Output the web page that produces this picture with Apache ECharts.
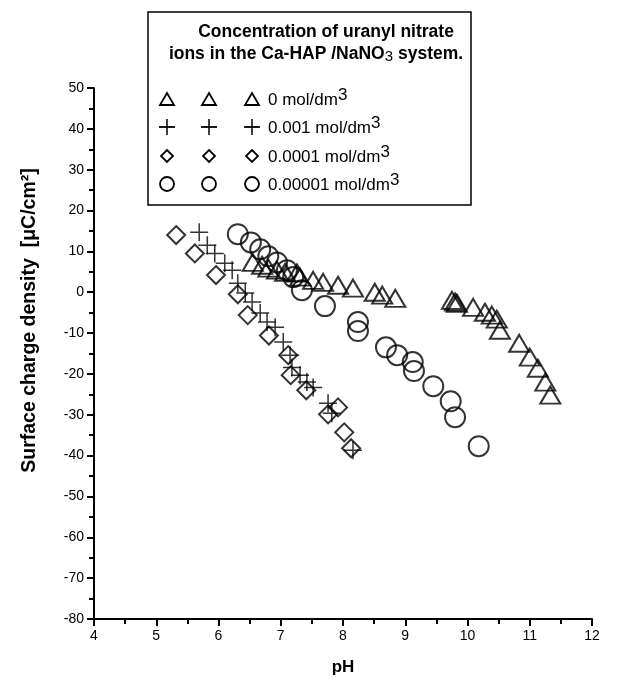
<!DOCTYPE html>
<html>
<head>
<meta charset="utf-8">
<script src="https://cdn.jsdelivr.net/npm/echarts@6/dist/echarts.min.js"></script>
<style>
  html, body { margin: 0; padding: 0; background: #fff; }
  #chart { width: 634px; height: 682px; }
</style>
</head>
<body>
<div id="chart"></div>
<script>
// pH / surface charge density pairs
var conc0 = [
  [6.55, 7.3], [6.70, 6.6], [6.80, 5.9], [6.94, 5.4], [7.07, 4.9], [7.26, 4.7], [7.31, 3.7],
  [7.52, 2.9], [7.68, 2.4], [7.92, 1.7], [8.16, 1.0], [8.51, 0.0], [8.63, -0.7], [8.84, -1.5],
  [9.75, -2.0], [9.80, -2.4], [9.83, -2.7], [10.09, -3.7], [10.28, -4.9], [10.39, -5.6],
  [10.47, -6.6], [10.52, -9.3], [10.83, -12.5], [11.00, -15.9], [11.13, -18.6], [11.25, -22.0], [11.33, -25.2]
];
var conc1e3 = [
  [5.69, 14.7], [5.82, 11.5], [5.94, 9.5], [6.10, 7.1], [6.22, 5.4], [6.31, 2.2], [6.43, -0.2],
  [6.54, -2.4], [6.67, -5.1], [6.78, -7.3], [6.91, -8.6], [7.04, -12.2], [7.15, -15.4], [7.18, -18.4],
  [7.31, -20.3], [7.42, -22.0], [7.52, -23.3], [7.76, -27.2], [7.82, -29.6], [8.16, -38.7]
];
var conc1e4 = [
  [5.32, 14.0], [5.62, 9.5], [5.96, 4.2], [6.31, -0.5], [6.47, -5.6], [6.81, -10.6], [7.12, -15.4],
  [7.16, -20.3], [7.41, -24.0], [7.76, -29.9], [7.92, -28.2], [8.02, -34.3], [8.13, -38.2]
];
var conc1e5 = [
  [6.31, 14.2], [6.52, 12.2], [6.67, 10.5], [6.80, 8.8], [6.94, 7.3], [7.10, 5.4], [7.20, 3.7],
  [7.34, 0.5], [7.71, -3.4], [8.24, -7.3], [8.24, -9.5], [8.69, -13.5], [8.87, -15.4], [9.12, -17.1],
  [9.14, -19.3], [9.45, -23.0], [9.73, -26.7], [9.80, -30.6], [10.18, -37.7]
];
var seriesNames = ['0 mol/dm3', '0.001 mol/dm3', '0.0001 mol/dm3', '0.00001 mol/dm3'];

var plusPath = 'path://M0,10L20,10M10,0L10,20';
var markStyle = { color: 'rgba(0,0,0,0)', borderColor: '#000', borderWidth: 2 };

var chartDom = document.getElementById('chart');
var myChart = echarts.init(chartDom);

// legend box drawn by hand (three symbol columns like the original)
var legendRows = [
  { y: 99, text: '0 mol/dm{s|3}' },
  { y: 127, text: '0.001 mol/dm{s|3}' },
  { y: 156, text: '0.0001 mol/dm{s|3}' },
  { y: 184, text: '0.00001 mol/dm{s|3}' }
];
var legendCols = [167, 209, 252];
var legendGraphics = [{
  type: 'rect',
  shape: { x: 148, y: 12, width: 323, height: 193 },
  style: { fill: '#fff', stroke: '#000', lineWidth: 1.5 }
}, {
  type: 'text',
  x: 326, y: 32,
  style: { text: 'Concentration of uranyl nitrate', fill: '#000', font: 'bold 17.5px "Liberation Sans", Arial', align: 'center', verticalAlign: 'middle' }
}, {
  type: 'text',
  x: 316, y: 54,
  style: {
    text: 'ions in the Ca-HAP /NaNO{b|3} system.',
    fill: '#000', font: 'bold 17.5px "Liberation Sans", Arial', align: 'center', verticalAlign: 'middle',
    rich: { b: { fontSize: 15, fontWeight: 'normal', verticalAlign: 'bottom', padding: [6, 0, 0, 0] } }
  }
}];
legendRows.forEach(function (row, i) {
  legendCols.forEach(function (cx) {
    var g;
    if (i === 0) {
      g = { type: 'polygon', shape: { points: [[cx, row.y - 6], [cx + 7, row.y + 6], [cx - 7, row.y + 6]] } };
    } else if (i === 1) {
      g = { type: 'polyline', shape: { points: [[cx - 8, row.y], [cx + 8, row.y]] } };
    } else if (i === 2) {
      g = { type: 'polygon', shape: { points: [[cx, row.y - 6], [cx + 6, row.y], [cx, row.y + 6], [cx - 6, row.y]] } };
    } else {
      g = { type: 'circle', shape: { cx: cx, cy: row.y, r: 7 } };
    }
    g.style = { fill: 'none', stroke: '#000', lineWidth: 1.8 };
    legendGraphics.push(g);
    if (i === 1) {
      legendGraphics.push({ type: 'polyline', shape: { points: [[cx, row.y - 8], [cx, row.y + 8]] }, style: { stroke: '#000', lineWidth: 1.5 } });
    }
  });
  legendGraphics.push({
    type: 'text',
    x: 268, y: row.y + 1,
    style: {
      text: row.text, fill: '#000', font: '17px "Liberation Sans", Arial', verticalAlign: 'middle',
      rich: { s: { fontSize: 17, verticalAlign: 'top', padding: [0, 0, 10, 0] } }
    }
  });
});

var option = {
  animation: false,
  backgroundColor: '#fff',
  grid: { left: 94, right: 42, top: 88, bottom: 63 },
  xAxis: {
    type: 'value',
    min: 4, max: 12, interval: 1,
    name: 'pH',
    nameLocation: 'middle',
    nameGap: 40,
    nameTextStyle: { fontSize: 17, fontWeight: 'bold', color: '#000', fontFamily: 'Liberation Sans' },
    axisLine: { onZero: false, lineStyle: { color: '#000', width: 2 } },
    axisTick: { length: 7, lineStyle: { color: '#000', width: 2 } },
    minorTick: { show: true, splitNumber: 2, length: 5, lineStyle: { color: '#000', width: 2 } },
    axisLabel: { color: '#000', fontSize: 14, margin: 10, fontFamily: 'Liberation Sans' },
    splitLine: { show: false }
  },
  yAxis: {
    type: 'value',
    min: -80, max: 50, interval: 10,
    name: 'Surface charge density  [μC/cm²]',
    nameLocation: 'middle',
    nameGap: 54,
    // left padding pushes the rotated title up to where the original sits
    nameTextStyle: { fontSize: 19.5, fontWeight: 'bold', color: '#000', fontFamily: 'Liberation Sans', padding: [0, 0, 0, 66] },
    axisLine: { onZero: false, lineStyle: { color: '#000', width: 2 } },
    axisTick: { length: 7, lineStyle: { color: '#000', width: 2 } },
    minorTick: { show: true, splitNumber: 2, length: 5, lineStyle: { color: '#000', width: 2 } },
    axisLabel: { color: '#000', fontSize: 14, margin: 10, fontFamily: 'Liberation Sans' },
    splitLine: { show: false }
  },
  series: [{
    name: seriesNames[0],
    type: 'scatter',
    symbol: 'triangle',
    symbolSize: [20, 17],
    itemStyle: markStyle,
    data: conc0
  }, {
    name: seriesNames[1],
    type: 'scatter',
    symbol: plusPath,
    symbolSize: 18,
    itemStyle: { color: 'rgba(0,0,0,0)', borderColor: '#000', borderWidth: 1.5 },
    data: conc1e3
  }, {
    name: seriesNames[2],
    type: 'scatter',
    symbol: 'diamond',
    symbolSize: 18,
    itemStyle: markStyle,
    data: conc1e4
  }, {
    name: seriesNames[3],
    type: 'scatter',
    symbol: 'circle',
    symbolSize: 20,
    itemStyle: markStyle,
    data: conc1e5
  }],
  graphic: legendGraphics
};
myChart.setOption(option);
</script>
</body>
</html>
